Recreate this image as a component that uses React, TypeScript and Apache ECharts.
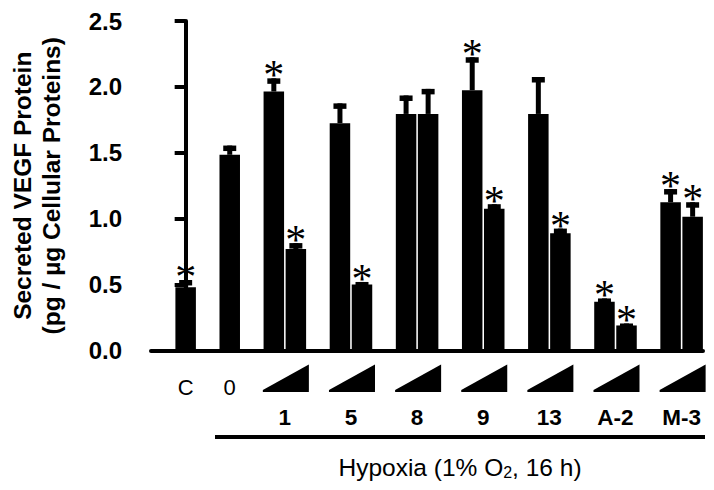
import React, { useEffect, useRef } from "react";
import * as echarts from "echarts";

// Treatment groups (C = normoxia control, 0 = hypoxia alone, others = compound at low/high dose)
const groups = ["C", "0", "1", "5", "8", "9", "13", "A-2", "M-3"];
// Low-dose (or single) bar means and SEM
const lowMean = [0.48, 1.485, 1.965, 1.725, 1.795, 1.975, 1.795, 0.37, 1.125];
const lowSem = [0.055, 0.07, 0.1, 0.15, 0.14, 0.25, 0.28, 0.025, 0.1];
const lowSig = [true, false, true, false, false, true, false, true, true];
// High-dose bar means and SEM (null = no second bar)
const highMean = [null, null, 0.77, 0.5, 1.795, 1.075, 0.89, 0.19, 1.015];
const highSem = [null, null, 0.045, 0.02, 0.19, 0.035, 0.035, 0.015, 0.11];
const highSig = [null, null, true, true, false, true, true, true, true];
// Y axis ticks
const yTicks = [0, 0.5, 1.0, 1.5, 2.0, 2.5];

const FONT = "Liberation Sans, Arial, Helvetica, sans-serif";

function slotOf(g: number, dose: number) {
  return g < 2 ? 2 * g : 4 + 3 * (g - 2) + dose;
}

type Bar = { slot: number; mean: number; sem: number; sig: boolean };

function buildBars(): Bar[] {
  const out: Bar[] = [];
  groups.forEach((_, g) => {
    out.push({ slot: slotOf(g, 0), mean: lowMean[g], sem: lowSem[g], sig: lowSig[g] });
    if (highMean[g] != null) {
      out.push({
        slot: slotOf(g, 1),
        mean: highMean[g] as number,
        sem: highSem[g] as number,
        sig: highSig[g] as boolean,
      });
    }
  });
  return out;
}

export default function App() {
  const ref = useRef<HTMLDivElement>(null);
  useEffect(() => {
    if (!ref.current) return;
    const chart = echarts.init(ref.current, null, { renderer: "svg" });
    const bars = buildBars();
    const groupCenters = groups.map((_, g) => (g < 2 ? slotOf(g, 0) : slotOf(g, 0) + 0.5));

    const option: any = {
      animation: false,
      backgroundColor: "#ffffff",
      grid: { left: 145.5, right: 11, top: 21, bottom: 139.5, containLabel: false },
      xAxis: {
        type: "value",
        min: -1.572,
        max: 23.47,
        axisLine: { show: true, onZero: false, lineStyle: { color: "#000", width: 4 } },
        axisTick: { show: false },
        axisLabel: { show: false },
        splitLine: { show: false },
      },
      yAxis: {
        type: "value",
        min: yTicks[0],
        max: yTicks[yTicks.length - 1],
        interval: 0.5,
        name: "Secreted VEGF Protein\n(pg / µg Cellular Proteins)",
        nameLocation: "middle",
        nameGap: 85,
        nameTextStyle: {
          fontFamily: FONT,
          fontWeight: "bold",
          fontSize: 24.5,
          color: "#000",
          lineHeight: 29,
        },
        axisLine: { show: true, lineStyle: { color: "#000", width: 4 } },
        axisTick: { show: true, inside: false, length: 11, lineStyle: { color: "#000", width: 4 } },
        axisLabel: {
          margin: 29,
          fontFamily: FONT,
          fontWeight: "bold",
          fontSize: 24,
          color: "#000",
          formatter: (v: number) => v.toFixed(1),
        },
        splitLine: { show: false },
      },
      series: [
        {
          type: "bar",
          data: bars.map((b) => [b.slot, b.mean]),
          barWidth: 20.5,
          itemStyle: { color: "#000" },
          z: 3,
        },
        {
          type: "custom",
          clip: false,
          z: 4,
          data: bars.map((b) => [b.slot, b.mean, b.mean + b.sem]),
          encode: { x: 0, y: [1, 2] },
          renderItem: (_p: any, api: any) => {
            const x = api.value(0);
            const top = api.coord([x, api.value(2)]);
            const base = api.coord([x, api.value(1)]);
            return {
              type: "group",
              children: [
                {
                  type: "rect",
                  shape: { x: top[0] - 2.5, y: top[1], width: 5, height: Math.max(0, base[1] - top[1]) },
                  style: { fill: "#000" },
                },
                {
                  type: "rect",
                  shape: { x: top[0] - 6.5, y: top[1], width: 13, height: 5.5 },
                  style: { fill: "#000" },
                },
              ],
            };
          },
        },
        {
          type: "custom",
          clip: false,
          z: 5,
          data: bars.filter((b) => b.sig).map((b) => [b.slot, b.mean + b.sem]),
          encode: { x: 0, y: 1 },
          renderItem: (_p: any, api: any) => {
            const p = api.coord([api.value(0), api.value(1)]);
            return {
              type: "text",
              x: p[0],
              y: p[1] - 3,
              style: {
                text: "*",
                fontFamily: "Liberation Serif, Times New Roman, serif",
                fontSize: 42,
                fill: "#000",
                align: "center",
                verticalAlign: "middle",
              },
            };
          },
        },
        {
          type: "custom",
          clip: false,
          z: 5,
          data: groups.map((name, g) => [groupCenters[g], 0, g]),
          encode: { x: 0, y: 1 },
          renderItem: (_p: any, api: any) => {
            const g = api.value(2);
            const p = api.coord([api.value(0), 0]);
            const cx = p[0];
            const y0 = p[1];
            if (g < 2) {
              return {
                type: "text",
                x: cx,
                y: y0 + 36.5,
                style: {
                  text: groups[g],
                  fontFamily: FONT,
                  fontSize: 22,
                  fill: "#000",
                  align: "center",
                  verticalAlign: "middle",
                },
              };
            }
            return {
              type: "group",
              children: [
                {
                  type: "polygon",
                  shape: {
                    points: [
                      [cx - 22, y0 + 41.5],
                      [cx + 24, y0 + 41.5],
                      [cx + 24, y0 + 14],
                      [cx - 22, y0 + 39.5],
                    ],
                  },
                  style: { fill: "#000" },
                },
                {
                  type: "text",
                  x: cx,
                  y: y0 + 67,
                  style: {
                    text: groups[g],
                    fontFamily: FONT,
                    fontWeight: "bold",
                    fontSize: 22.5,
                    fill: "#000",
                    align: "center",
                    verticalAlign: "middle",
                  },
                },
              ],
            };
          },
        },
      ],
      graphic: [
        {
          type: "line",
          shape: { x1: 215, y1: 437, x2: 705, y2: 437 },
          style: { stroke: "#000", lineWidth: 4 },
        },
        {
          type: "text",
          x: 460,
          y: 467,
          style: {
            text: "Hypoxia (1% O{sub|2}, 16 h)",
            fontFamily: FONT,
            fontSize: 24.5,
            fill: "#000",
            align: "center",
            verticalAlign: "middle",
            rich: {
              sub: { fontFamily: FONT, fontSize: 16, fill: "#000", padding: [10, 0, 0, 0] },
            },
          },
        },
      ],
    };
    chart.setOption(option);
    return () => chart.dispose();
  }, []);
  return (
    <div
      ref={ref}
      style={{ position: "fixed", left: 0, top: 0, width: 714, height: 490, background: "#fff" }}
    />
  );
}
